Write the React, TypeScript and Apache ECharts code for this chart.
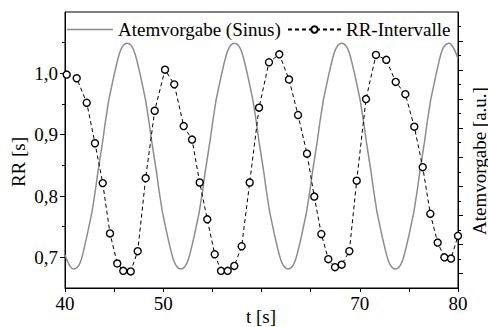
import React, { useEffect, useRef } from 'react';
import * as echarts from 'echarts';

// RR intervals (time in s, value in s)
const rrTime = [40.17, 41.19, 42.21, 43.05, 43.84, 44.58, 45.32, 45.93, 46.69, 47.40, 48.21, 49.13, 50.18, 51.12, 52.08, 52.93, 53.71, 54.48, 55.24, 55.88, 56.56, 57.23, 57.98, 58.80, 59.75, 60.76, 61.81, 62.80, 63.72, 64.63, 65.37, 66.09, 66.80, 67.48, 68.16, 68.94, 69.69, 70.64, 71.65, 72.70, 73.66, 74.64, 75.55, 76.41, 77.18, 77.93, 78.61, 79.29, 80.0];
const rrValue = [0.998, 0.992, 0.952, 0.886, 0.821, 0.739, 0.690, 0.678, 0.677, 0.710, 0.829, 0.939, 1.006, 0.982, 0.914, 0.892, 0.822, 0.762, 0.705, 0.678, 0.678, 0.686, 0.718, 0.822, 0.944, 1.018, 1.031, 0.990, 0.932, 0.869, 0.799, 0.738, 0.697, 0.684, 0.688, 0.710, 0.825, 0.958, 1.030, 1.022, 0.986, 0.966, 0.913, 0.847, 0.771, 0.724, 0.700, 0.698, 0.735];

// Breathing guide (sine), read at troughs, peaks and in between (plotted in RR units)
const sineTime = [40.0, 40.87, 42.235, 43.60, 44.965, 46.33, 47.695, 49.06, 50.425, 51.79, 53.155, 54.52, 55.885, 57.25, 58.615, 59.98, 61.345, 62.71, 64.075, 65.44, 66.805, 68.17, 69.535, 70.90, 72.265, 73.63, 74.995, 76.36, 77.725, 79.09, 80.0];
const sineValue = [0.704, 0.681, 0.735, 0.865, 0.995, 1.049, 0.995, 0.865, 0.735, 0.681, 0.735, 0.865, 0.995, 1.049, 0.995, 0.865, 0.735, 0.681, 0.735, 0.865, 0.995, 1.049, 0.995, 0.865, 0.735, 0.681, 0.735, 0.865, 0.995, 1.049, 1.024];

const xHiddenLabels = [60];
const yMajorTicks = [0.7, 0.8, 0.9, 1.0];
const yMinorTicks = [0.75, 0.85, 0.95, 1.05];
const rightMajorTicks = [0, 1, 2, 3, 4, 5, 6, 7, 8];
const rightMinorTicks = [0.5, 1.5, 2.5, 3.5, 4.5, 5.5, 6.5, 7.5, 8.5];

const FONT = "'Liberation Serif', 'Times New Roman', 'DejaVu Serif', serif";
const FS = 19;
const SINE_COLOR = '#8c8c8c';

export default function App() {
  const ref = useRef<HTMLDivElement>(null);
  useEffect(() => {
    const chart = echarts.init(ref.current!, null, { renderer: 'svg' });
    const axisLine = { show: true, onZero: false, lineStyle: { color: '#000', width: 1 } };
    const textBase = { fontFamily: FONT, fontSize: FS, color: '#000' };
    chart.setOption({
      animation: false,
      backgroundColor: '#fff',
      textStyle: { fontFamily: FONT },
      grid: { left: 65, right: 30, top: 12, bottom: 39, show: true, borderColor: '#000', borderWidth: 1, backgroundColor: 'transparent' },
      legend: [
        {
          data: [{ name: 'Atemvorgabe (Sinus)', icon: 'rect', itemStyle: { color: SINE_COLOR } }],
          left: 67, top: 20, padding: 0, itemWidth: 46, itemHeight: 1.5,
          selectedMode: false, textStyle: textBase,
        },
        {
          data: [{ name: 'RR-Intervalle' }],
          left: 287, top: 20, padding: 0, itemWidth: 53, itemHeight: 8,
          selectedMode: false, textStyle: textBase,
        },
      ],
      xAxis: [{
        type: 'value', min: 40, max: 80, interval: 5, position: 'bottom',
        axisLine,
        axisTick: { show: true, inside: false, length: 4, lineStyle: { color: '#000' } },
        axisLabel: {
          ...textBase, margin: 6,
          formatter: (v: number) => (v % 10 === 0 && !xHiddenLabels.includes(v) ? String(v) : ''),
        },
        splitLine: { show: false },
      }],
      yAxis: [
        {
          type: 'value', min: 0.65, max: 1.1, position: 'left',
          axisLine,
          axisTick: { show: true, inside: false, length: 5, customValues: yMajorTicks, lineStyle: { color: '#000' } },
          axisLabel: { ...textBase, margin: 7, customValues: yMajorTicks, formatter: (v: number) => v.toFixed(1).replace('.', ',') },
          splitLine: { show: false },
        },
        {
          type: 'value', min: 0.65, max: 1.1, position: 'left',
          axisLine: { show: false, onZero: false },
          axisTick: { show: true, inside: false, length: 3, customValues: yMinorTicks, lineStyle: { color: '#000' } },
          axisLabel: { show: false },
          splitLine: { show: false },
        },
        {
          type: 'value', min: -0.5, max: 9, position: 'right',
          axisLine,
          axisTick: { show: true, inside: false, length: 5, customValues: rightMajorTicks, lineStyle: { color: '#000' } },
          axisLabel: { show: false },
          splitLine: { show: false },
        },
        {
          type: 'value', min: -0.5, max: 9, position: 'right',
          axisLine: { show: false, onZero: false },
          axisTick: { show: true, inside: false, length: 3, customValues: rightMinorTicks, lineStyle: { color: '#000' } },
          axisLabel: { show: false },
          splitLine: { show: false },
        },
      ],
      series: [
        {
          type: 'line', name: 'Atemvorgabe (Sinus)', xAxisIndex: 0, yAxisIndex: 0,
          data: sineTime.map((t, i) => [t, sineValue[i]]),
          smooth: true, symbol: 'none',
          lineStyle: { color: SINE_COLOR, width: 1.5 },
          itemStyle: { color: SINE_COLOR },
          z: 2,
        },
        {
          type: 'line', name: 'RR-Intervalle', xAxisIndex: 0, yAxisIndex: 0,
          data: rrTime.map((t, i) => [t, rrValue[i]]),
          symbol: 'circle', symbolSize: 7, showSymbol: true,
          itemStyle: { color: '#fff', borderColor: '#000', borderWidth: 1.4 },
          lineStyle: { color: '#000', width: 1, type: [4, 3] },
          z: 3,
        },
      ],
      graphic: [
        {
          type: 'text', x: 18, y: 162, rotation: Math.PI / 2,
          style: { text: 'RR [s]', fontFamily: FONT, fontSize: FS, fill: '#000', align: 'center', verticalAlign: 'middle' },
        },
        {
          type: 'text', x: 479, y: 161, rotation: Math.PI / 2,
          style: { text: 'Atemvorgabe [a.u.]', fontFamily: FONT, fontSize: FS, fill: '#000', align: 'center', verticalAlign: 'middle' },
        },
        {
          type: 'text', x: 261, y: 316,
          style: { text: 't [s]', fontFamily: FONT, fontSize: FS, fill: '#000', align: 'center', verticalAlign: 'middle' },
        },
      ],
    });
    return () => chart.dispose();
  }, []);
  return <div ref={ref} style={{ position: 'absolute', left: 0, top: 0, width: 488, height: 327 }} />;
}
